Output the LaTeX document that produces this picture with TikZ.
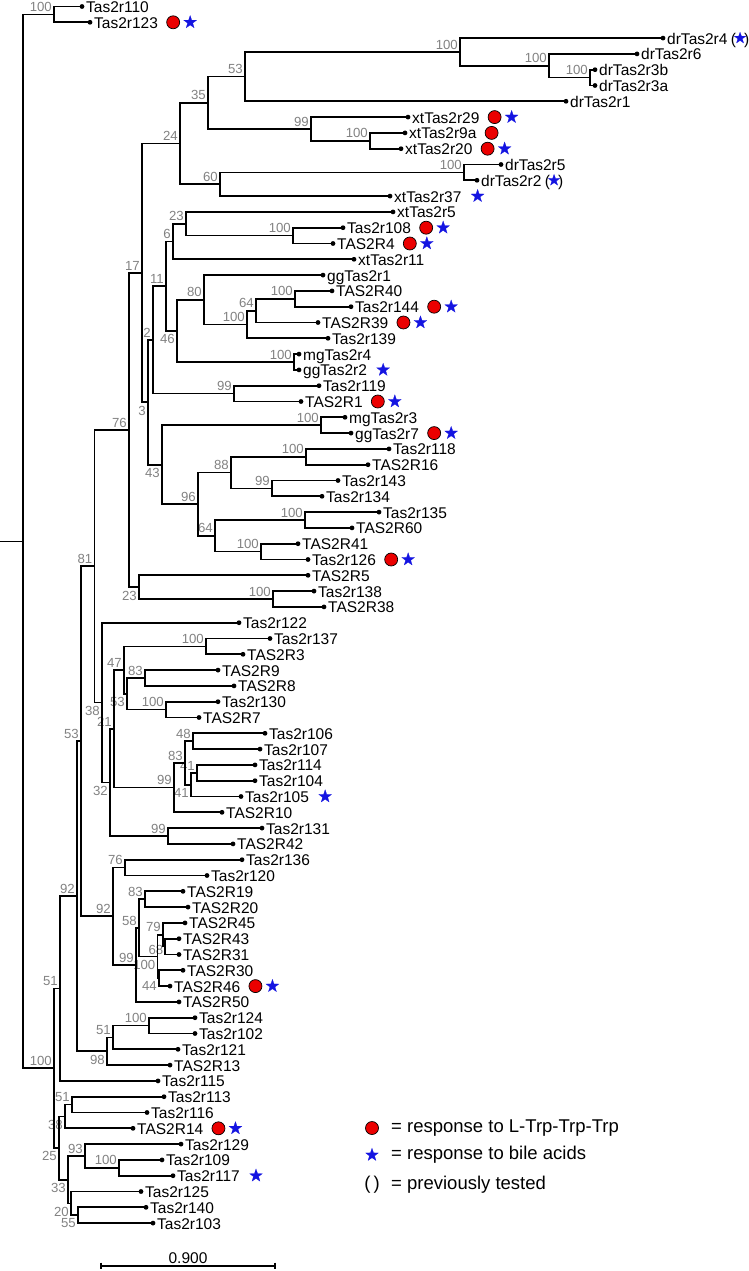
\documentclass[tikz,border=0pt]{standalone}
\usepackage{fontspec}
\setmainfont{Liberation Sans}
\usetikzlibrary{calc,shapes.geometric}
\definecolor{bsgray}{RGB}{130,130,130}
\definecolor{mred}{RGB}{235,0,0}
\definecolor{mblue}{RGB}{20,20,225}
\newcommand\leaffont{\fontsize{15.5}{18}\selectfont}
\newcommand\bsfont{\fontsize{13.2}{15}\selectfont}
\newcommand\lgfont{\fontsize{18.5}{22}\selectfont}
\tikzset{
  br/.style={line width=1.7pt, line join=miter},
  leaf/.style={anchor=base west, inner sep=1pt, xshift=3pt, yshift=-6pt, font=\leaffont},
  bs/.style={font=\bsfont, text=bsgray, inner sep=0pt},
  bsa/.style={bs, anchor=south east, xshift=-2pt, yshift=2.5pt},
  bsb/.style={bs, anchor=north east, xshift=-2pt, yshift=-3.5pt},
  bsm/.style={bs, anchor=east, xshift=-1.5pt, yshift=-3.5pt},
  rcirc/.style={circle, draw=black, line width=0.7pt, fill=mred, minimum size=13pt, inner sep=0pt},
  bstar/.style={star, star points=5, star point ratio=2.5, fill=mblue, draw=mblue, line width=0.2pt, minimum size=13.5pt, inner sep=0pt},
  lfp/.style={anchor=base west, inner sep=0pt, xshift=2pt, font=\leaffont},
  lgt/.style={anchor=west, inner sep=1pt, font=\lgfont}
}
\newcommand\lv[3]{\coordinate (l#1) at (#2,{6.5+(#1-1)*15.8}); \fill (l#1) circle (2.4pt); \node[leaf] (t#1) at (l#1) {#3};}
\newcommand\nd[6]{\path let \p1=(#3), \p2=(#4) in (#2pt,{(\y1+\y2)/2}) coordinate (#1);
  \draw[br] (#3) -| (#1) |- (#4);
  \node[bs#6] (b#1) at (#1) {#5};}
\newcommand\mC[1]{\node[rcirc, xshift=14pt] (c#1) at (t#1.east |- l#1) {}; \node[bstar, xshift=31pt] (s#1) at (t#1.east |- l#1) {};}
\newcommand\mO[1]{\node[rcirc, xshift=14pt] (c#1) at (t#1.east |- l#1) {};}
\newcommand\mS[1]{\node[bstar, xshift=15pt] (s#1) at (t#1.east |- l#1) {};}
\newcommand\mP[1]{\node[lfp] (p#1) at (t#1.base east) {(\hspace{8pt})}; \node[bstar, minimum size=12pt] (s#1) at (p#1.center |- l#1) {};}
\begin{document}
\begin{tikzpicture}[x=1pt,y=-1pt]
\useasboundingbox (0,0) rectangle (749,1271);
% leaves
\lv{1}{82}{Tas2r110}
\lv{2}{90}{Tas2r123}
\lv{3}{663}{drTas2r4}
\lv{4}{637}{drTas2r6}
\lv{5}{595}{drTas2r3b}
\lv{6}{595}{drTas2r3a}
\lv{7}{566}{drTas2r1}
\lv{8}{408}{xtTas2r29}
\lv{9}{405}{xtTas2r9a}
\lv{10}{401}{xtTas2r20}
\lv{11}{501}{drTas2r5}
\lv{12}{477}{drTas2r2}
\lv{13}{390}{xtTas2r37}
\lv{14}{393}{xtTas2r5}
\lv{15}{343}{Tas2r108}
\lv{16}{333}{TAS2R4}
\lv{17}{354}{xtTas2r11}
\lv{18}{323}{ggTas2r1}
\lv{19}{332}{TAS2R40}
\lv{20}{351}{Tas2r144}
\lv{21}{318}{TAS2R39}
\lv{22}{328}{Tas2r139}
\lv{23}{299}{mgTas2r4}
\lv{24}{299}{ggTas2r2}
\lv{25}{319}{Tas2r119}
\lv{26}{301}{TAS2R1}
\lv{27}{345}{mgTas2r3}
\lv{28}{351}{ggTas2r7}
\lv{29}{389}{Tas2r118}
\lv{30}{368}{TAS2R16}
\lv{31}{338}{Tas2r143}
\lv{32}{322}{Tas2r134}
\lv{33}{379}{Tas2r135}
\lv{34}{352}{TAS2R60}
\lv{35}{298}{TAS2R41}
\lv{36}{308}{Tas2r126}
\lv{37}{308}{TAS2R5}
\lv{38}{314}{Tas2r138}
\lv{39}{324}{TAS2R38}
\lv{40}{239}{Tas2r122}
\lv{41}{270}{Tas2r137}
\lv{42}{243}{TAS2R3}
\lv{43}{218}{TAS2R9}
\lv{44}{234}{TAS2R8}
\lv{45}{218}{Tas2r130}
\lv{46}{199}{TAS2R7}
\lv{47}{265}{Tas2r106}
\lv{48}{260}{Tas2r107}
\lv{49}{255}{Tas2r114}
\lv{50}{255}{Tas2r104}
\lv{51}{241}{Tas2r105}
\lv{52}{222}{TAS2R10}
\lv{53}{262}{Tas2r131}
\lv{54}{233}{TAS2R42}
\lv{55}{242}{Tas2r136}
\lv{56}{207}{Tas2r120}
\lv{57}{183}{TAS2R19}
\lv{58}{188}{TAS2R20}
\lv{59}{185}{TAS2R45}
\lv{60}{179}{TAS2R43}
\lv{61}{179}{TAS2R31}
\lv{62}{183}{TAS2R30}
\lv{63}{170}{TAS2R46}
\lv{64}{179}{TAS2R50}
\lv{65}{195}{Tas2r124}
\lv{66}{195}{Tas2r102}
\lv{67}{178}{Tas2r121}
\lv{68}{170}{TAS2R13}
\lv{69}{158}{Tas2r115}
\lv{70}{164}{Tas2r113}
\lv{71}{147}{Tas2r116}
\lv{72}{133}{TAS2R14}
\lv{73}{181}{Tas2r129}
\lv{74}{162}{Tas2r109}
\lv{75}{173}{Tas2r117}
\lv{76}{141}{Tas2r125}
\lv{77}{146}{Tas2r140}
\lv{78}{153}{Tas2r103}
% markers
\mC{2} \mP{3} \mC{8} \mO{9} \mC{10} \mP{12} \mS{13} \mC{15} \mC{16}
\mC{20} \mC{21} \mS{24} \mC{26} \mC{28} \mC{36} \mS{51} \mC{63} \mC{72} \mS{75}
% internal nodes
\nd{n100c}{590}{l5}{l6}{100}{a}
\nd{n100b}{549}{l4}{n100c}{100}{a}
\nd{n100a}{460}{l3}{n100b}{100}{a}
\nd{n53a}{245}{n100a}{l7}{53}{a}
\nd{n100d}{370}{l9}{l10}{100}{a}
\nd{n99a}{311}{l8}{n100d}{99}{a}
\nd{n35}{208}{n53a}{n99a}{35}{a}
\nd{n100e}{464}{l11}{l12}{100}{a}
\nd{n60}{220}{n100e}{l13}{60}{a}
\nd{n24}{180}{n35}{n60}{24}{a}
\nd{n100f}{293}{l15}{l16}{100}{a}
\nd{n23a}{186}{l14}{n100f}{23}{a}
\nd{n6}{173}{n23a}{l17}{6}{a}
\nd{n100i}{295}{l19}{l20}{100}{a}
\nd{n64a}{256}{n100i}{l21}{64}{a}
\nd{n100h}{247}{n64a}{l22}{100}{a}
\nd{n80}{204}{l18}{n100h}{80}{a}
\nd{n100g}{294}{l23}{l24}{100}{a}
\nd{n46}{177}{n80}{n100g}{46}{b}
\nd{n11}{166}{n6}{n46}{11}{a}
\nd{n99b}{234}{l25}{l26}{99}{a}
\nd{n2}{153}{n11}{n99b}{2}{a}
\nd{n100j}{321}{l27}{l28}{100}{a}
\nd{n100k}{306}{l29}{l30}{100}{a}
\nd{n99c}{272}{l31}{l32}{99}{a}
\nd{n88}{231}{n100k}{n99c}{88}{a}
\nd{n100l}{305}{l33}{l34}{100}{a}
\nd{n100m}{261}{l35}{l36}{100}{a}
\nd{n64b}{215}{n100l}{n100m}{64}{a}
\nd{n96}{198}{n88}{n64b}{96}{a}
\nd{n43}{162}{n100j}{n96}{43}{b}
\nd{n3}{148}{n2}{n43}{3}{b}
\nd{n17}{142}{n24}{n3}{17}{a}
\nd{n100n}{273}{l38}{l39}{100}{a}
\nd{n23b}{139}{l37}{n100n}{23}{b}
\nd{n76a}{129}{n17}{n23b}{76}{a}
\nd{n100o}{206}{l41}{l42}{100}{a}
\nd{n83a}{145}{l43}{l44}{83}{a}
\nd{n100p}{166}{l45}{l46}{100}{a}
\nd{n53b}{127}{n83a}{n100p}{53}{b}
\nd{n47}{124}{n100o}{n53b}{47}{a}
\nd{n48}{193}{l47}{l48}{48}{a}
\nd{n41a}{197}{l49}{l50}{41}{a}
\nd{n41b}{191}{n41a}{l51}{41}{b}
\nd{n83b}{185}{n48}{n41b}{83}{a}
\nd{n99d}{174}{n83b}{l52}{99}{a}
\nd{n21}{114}{n47}{n99d}{21}{a}
\nd{n99e}{168}{l53}{l54}{99}{a}
\nd{n32}{110}{n21}{n99e}{32}{b}
\nd{n38a}{102}{l40}{n32}{38}{b}
\nd{n81}{94.5}{n76a}{n38a}{81}{a}
\nd{n76b}{125}{l55}{l56}{76}{a}
\nd{n83c}{145}{l57}{l58}{83}{a}
\nd{n68}{165}{l60}{l61}{68}{m}
\nd{n79}{163}{l59}{n68}{79}{a}
\nd{n44}{159}{l62}{l63}{44}{b}
\nd{n100q}{157.5}{n79}{n44}{100}{b}
\nd{n58}{139}{n83c}{n100q}{58}{a}
\nd{n99f}{136}{n58}{l64}{99}{a}
\nd{n92b}{113}{n76b}{n99f}{92}{a}
\nd{n53c}{81}{n81}{n92b}{53}{a}
\nd{n100r}{149}{l65}{l66}{100}{a}
\nd{n51c}{113}{n100r}{l67}{51}{a}
\nd{n98}{107}{n51c}{l68}{98}{b}
\nd{n92a}{77}{n53c}{n98}{92}{a}
\nd{n51a}{60}{n92a}{l69}{51}{a}
\nd{n51b}{72}{l70}{l71}{51}{a}
\nd{n38b}{65}{n51b}{l72}{38}{b}
\nd{n100s}{119}{l74}{l75}{100}{a}
\nd{n93}{85}{l73}{n100s}{93}{a}
\nd{n55}{78}{l77}{l78}{55}{b}
\nd{n20}{71}{l76}{n55}{20}{b}
\nd{n33}{68}{n93}{n20}{33}{b}
\nd{n25}{59}{n38b}{n33}{25}{b}
\nd{nB}{54}{n51a}{n25}{100}{a}
\nd{nA}{54}{l1}{l2}{100}{a}
% root
\path let \p1=(nA), \p2=(nB) in (23pt,{(\y1+\y2)/2}) coordinate (root);
\coordinate (r0) at (0,0);
\draw[br] (nA) -| (root) |- (nB);
\draw[br] (root) -- (root -| r0);
% scale bar
\coordinate (sb1) at (101,1266);
\coordinate (sb2) at (275,1266);
\draw[line width=1.4pt] (sb1) -- (sb2);
\draw[line width=1.4pt] ([yshift=3.5pt]sb1) -- ([yshift=-3pt]sb1);
\draw[line width=1.4pt] ([yshift=3.5pt]sb2) -- ([yshift=-3pt]sb2);
\node[font=\leaffont, anchor=base, inner sep=0pt] (sbl) at (188,1263) {0.900};
% legend
\node[rcirc] (lgc) at (372,1128) {};
\node[lgt] (lg1) at (390,1128) {= response to L-Trp-Trp-Trp};
\node[bstar] (lgs) at (372,1155) {};
\node[lgt] (lg2) at (390,1155) {= response to bile acids};
\node[font=\lgfont, inner sep=0pt] (lgp) at (372,1185) {(\hspace{3pt})};
\node[lgt] (lg3) at (390,1185) {= previously tested};
\end{tikzpicture}
\end{document}
